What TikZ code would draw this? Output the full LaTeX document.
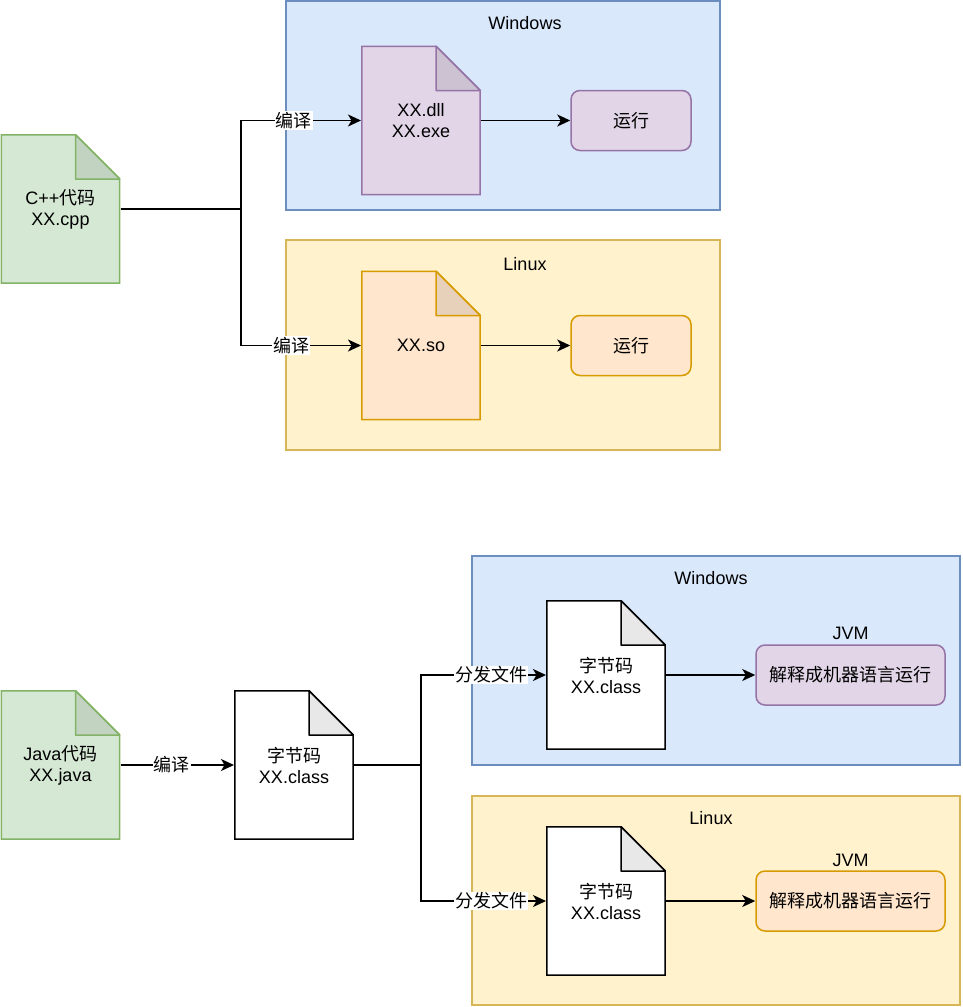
\documentclass[tikz,border=0pt]{standalone}
\usepackage{fontspec}
\setmainfont{Liberation Sans}
\newfontfamily\cjk{Noto Sans CJK SC}
\usetikzlibrary{positioning, arrows.meta}

\definecolor{grnfill}{HTML}{D5E8D4}
\definecolor{grnline}{HTML}{82B366}
\definecolor{bluefill}{HTML}{DAE8FC}
\definecolor{blueline}{HTML}{6C8EBF}
\definecolor{purpfill}{HTML}{E1D5E7}
\definecolor{purpline}{HTML}{9673A6}
\definecolor{yelfill}{HTML}{FFF2CC}
\definecolor{yelline}{HTML}{D6B656}
\definecolor{orgfill}{HTML}{FFE6CC}
\definecolor{orgline}{HTML}{D79B00}

\tikzset{
  doc/.style 2 args={minimum width=120pt, minimum height=150pt, inner sep=0pt, outer sep=0pt, align=center,
    path picture={
      \filldraw[fill=#1, draw=#2, line width=1.5pt]
        ([shift={(.8pt,-.8pt)}]path picture bounding box.north west)
        -- ([shift={(-45pt,-.8pt)}]path picture bounding box.north east)
        -- ([shift={(-.8pt,-45pt)}]path picture bounding box.north east)
        -- ([shift={(-.8pt,.8pt)}]path picture bounding box.south east)
        -- ([shift={(.8pt,.8pt)}]path picture bounding box.south west) -- cycle;
      \filldraw[fill=#1!91!black, draw=#2, line width=1.5pt, line join=round]
        ([shift={(-45pt,-.8pt)}]path picture bounding box.north east)
        -- ([shift={(-45pt,-45pt)}]path picture bounding box.north east)
        -- ([shift={(-.8pt,-45pt)}]path picture bounding box.north east) -- cycle;
    }},
  zone/.style 2 args={fill=#1, draw=#2},
  run/.style 2 args={rounded corners=9pt, fill=#1, draw=#2, minimum width=120pt, minimum height=60pt},
  lbl/.style={fill=white, inner sep=1pt},
}

\begin{document}
\begin{tikzpicture}[x=1pt,y=-1pt,node distance=210pt,on grid,line width=1.5pt,
    font=\fontsize{18}{21}\selectfont, >={Stealth[length=13pt,width=12pt,inset=3.5pt]}]
  \useasboundingbox (0,0) rectangle (962,1007);
  \node[zone={bluefill}{blueline}, minimum width=434pt, minimum height=209pt] (winA) at (503,105.5) {};
  \node (winAtxt) at (525,23) {Windows};
  \node[zone={yelfill}{yelline}, minimum width=434pt, minimum height=210pt] (linA) at (503,345) {};
  \node (linAtxt) at (525,264) {Linux};
  \node[doc={grnfill}{grnline}] (cpp) at (60.5,209) {C++{\cjk 代码}\\XX.cpp};
  \node[doc={purpfill}{purpline}] (dll) at (421,120.5) {XX.dll\\XX.exe};
  \node[run={purpfill}{purpline}] (runA) [right =of dll] {\cjk 运行};
  \node[doc={orgfill}{orgline}] (so) [below =225pt of dll] {XX.so};
  \node[run={orgfill}{orgline}] (runB) [right =of so] {\cjk 运行};
  \coordinate (forkA) at (241,209);
  \draw (cpp) -- (forkA);
  \draw[->] (forkA) |- node[lbl, pos=0.72] {\cjk 编译} (dll);
  \draw[->] (forkA) |- node[lbl, pos=0.71] {\cjk 编译} (so);
  \draw[->] (dll) -- (runA);
  \draw[->] (so) -- (runB);

  \node[zone={bluefill}{blueline}, minimum width=488pt, minimum height=209pt] (winB) at (716,660.5) {};
  \node (winBtxt) at (711,578) {Windows};
  \node[zone={yelfill}{yelline}, minimum width=488pt, minimum height=209pt] (linB) at (716,900.5) {};
  \node (linBtxt) at (711,818) {Linux};
  \node[doc={grnfill}{grnline}] (java) at (60.5,765) {Java{\cjk 代码}\\XX.java};
  \node[doc={white}{black}] (bc) at (294,765) {{\cjk 字节码}\\XX.class};
  \node[doc={white}{black}] (bcA) at (606,675) {{\cjk 字节码}\\XX.class};
  \node[run={purpfill}{purpline}, minimum width=189pt, label={above:JVM}] (jvmA) [right =244.5pt of bcA] {\cjk 解释成机器语言运行};
  \node[doc={white}{black}] (bcB) [below =226pt of bcA] {{\cjk 字节码}\\XX.class};
  \node[run={orgfill}{orgline}, minimum width=189pt, label={above:JVM}] (jvmB) [right =244.5pt of bcB] {\cjk 解释成机器语言运行};
  \coordinate (forkB) at (421,765);
  \draw[->] (java) -- node[lbl, pos=0.45] {\cjk 编译} (bc);
  \draw (bc) -- (forkB);
  \draw[->] (forkB) |- node[lbl, pos=0.78] {\cjk 分发文件} (bcA);
  \draw[->] (forkB) |- node[lbl, pos=0.78] {\cjk 分发文件} (bcB);
  \draw[->] (bcA) -- (jvmA);
  \draw[->] (bcB) -- (jvmB);
\end{tikzpicture}
\end{document}
